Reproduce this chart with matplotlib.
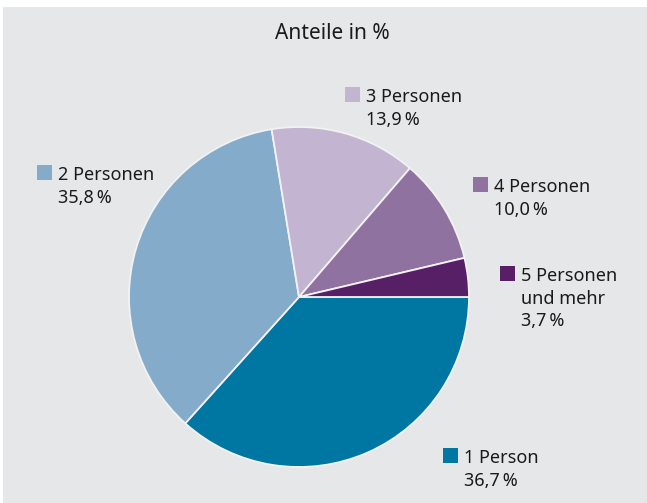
import matplotlib.pyplot as plt
from matplotlib.patches import Rectangle

# data
categories = ['1 Person', '2 Personen', '3 Personen', '4 Personen', '5 Personen\nund mehr']
shares = [36.7, 35.8, 13.9, 10.0, 3.7]
colors = ['#0077a3', '#85abca', '#c3b4d2', '#8f72a0', '#561f66']

# label anchor (left edge of square, top of square) in pixels from top-left
label_pos = [(443, 448), (37, 165), (345, 87), (473, 177), (500, 266)]

W, H = 647, 503
plt.rcParams['font.family'] = ['Noto Sans', 'DejaVu Sans']

fig = plt.figure(figsize=(W / 100, H / 100), dpi=100)
fig.patch.set_facecolor('white')

# grey panel
fig.patches.append(Rectangle((3 / W, 0), 1 - 3 / W, 1 - 7 / H, transform=fig.transFigure,
                             facecolor='#e6e7e8', edgecolor='none', zorder=-5))

fig.text(332 / W, 1 - 33 / H, 'Anteile in %', ha='center', va='center',
         fontsize=15, color='#1a1a1a')

cx, cy, r = 299, 297, 170
ax = fig.add_axes([(cx - r) / W, (H - cy - r) / H, 2 * r / W, 2 * r / H])
ax.pie(shares, colors=colors, startangle=0, counterclock=False, radius=1,
       wedgeprops=dict(edgecolor='#f2f2f2', linewidth=1.3))
ax.set_xlim(-1, 1)
ax.set_ylim(-1, 1)
ax.set_aspect('equal')
ax.axis('off')

sq = 15
for name, val, col, (px, py) in zip(categories, shares, colors, label_pos):
    fig.patches.append(Rectangle((px / W, 1 - (py + sq) / H), sq / W, sq / H,
                                 transform=fig.transFigure, facecolor=col,
                                 edgecolor='none'))
    txt = name + '\n' + f'{val:.1f}'.replace('.', ',') + '\u202f%'
    fig.text((px + sq + 6) / W, 1 - (py + 1) / H, txt, ha='left', va='top',
             fontsize=13, color='#1a1a1a', linespacing=1.33)

fig.savefig('out.png', dpi=100)
